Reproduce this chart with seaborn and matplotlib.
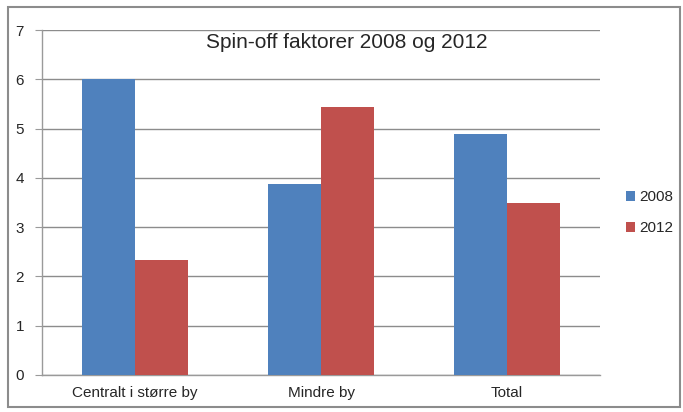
import pandas as pd
import matplotlib
matplotlib.use("Agg")
import matplotlib.pyplot as plt
import matplotlib.patches as mpatches
import seaborn as sns

categories = ["Centralt i større by", "Mindre by", "Total"]
years = ["2008", "2012"]
values_2008 = [6.0, 3.88, 4.9]
values_2012 = [2.33, 5.43, 3.5]

df = pd.DataFrame({
    "Kategori": categories * 2,
    "År": [years[0]] * 3 + [years[1]] * 3,
    "Verdi": values_2008 + values_2012,
})

sns.set_style("white")
plt.rcParams["font.family"] = ["Liberation Sans Narrow", "Liberation Sans", "DejaVu Sans"]

fig = plt.figure(figsize=(6.83, 4.12), dpi=100)
ax = fig.add_axes([42 / 683, 1 - 375 / 412, 558 / 683, 345 / 412])

sns.barplot(data=df, x="Kategori", y="Verdi", hue="År", palette=["#4F81BD", "#C0504D"],
            width=0.57, errorbar=None, ax=ax, saturation=1, zorder=3, linewidth=0)

ax.set_ylim(0, 7)
ax.set_xlim(-0.5, 2.5)
ax.set_yticks(range(0, 8))
ax.yaxis.grid(True, color="#8c8c8c", linewidth=1, zorder=0)
ax.set_axisbelow(True)
ax.set_xlabel("")
ax.set_ylabel("")
for s in ["top", "right"]:
    ax.spines[s].set_visible(False)
for s in ["left", "bottom"]:
    ax.spines[s].set_color("#9a9a9a")
    ax.spines[s].set_linewidth(1)
ax.set_xticks([-0.5, 0.5, 1.5, 2.5], minor=True)
ax.tick_params(axis="x", which="minor", length=5, color="#9a9a9a", direction="out")
ax.tick_params(axis="x", which="major", length=0, labelsize=11, pad=8)
ax.tick_params(axis="y", length=5, color="#9a9a9a", labelsize=11, pad=8, left=True)

ax.legend(loc="center left", bbox_to_anchor=(612 / 558 - 42 / 558, 0.47), frameon=False,
          fontsize=11, handlelength=0.6, handleheight=0.6, handletextpad=0.3,
          labelspacing=1.1)

fig.text(347 / 683, 1 - 42 / 412, "Spin-off faktorer 2008 og 2012", ha="center", va="center",
         fontsize=15)

fig.patches.append(mpatches.Rectangle((8 / 683, 5 / 412), 672 / 683, 400 / 412,
                                      transform=fig.transFigure, fill=False,
                                      edgecolor="#8c8c8c", linewidth=1.5))

fig.savefig("out.png", dpi=100)
